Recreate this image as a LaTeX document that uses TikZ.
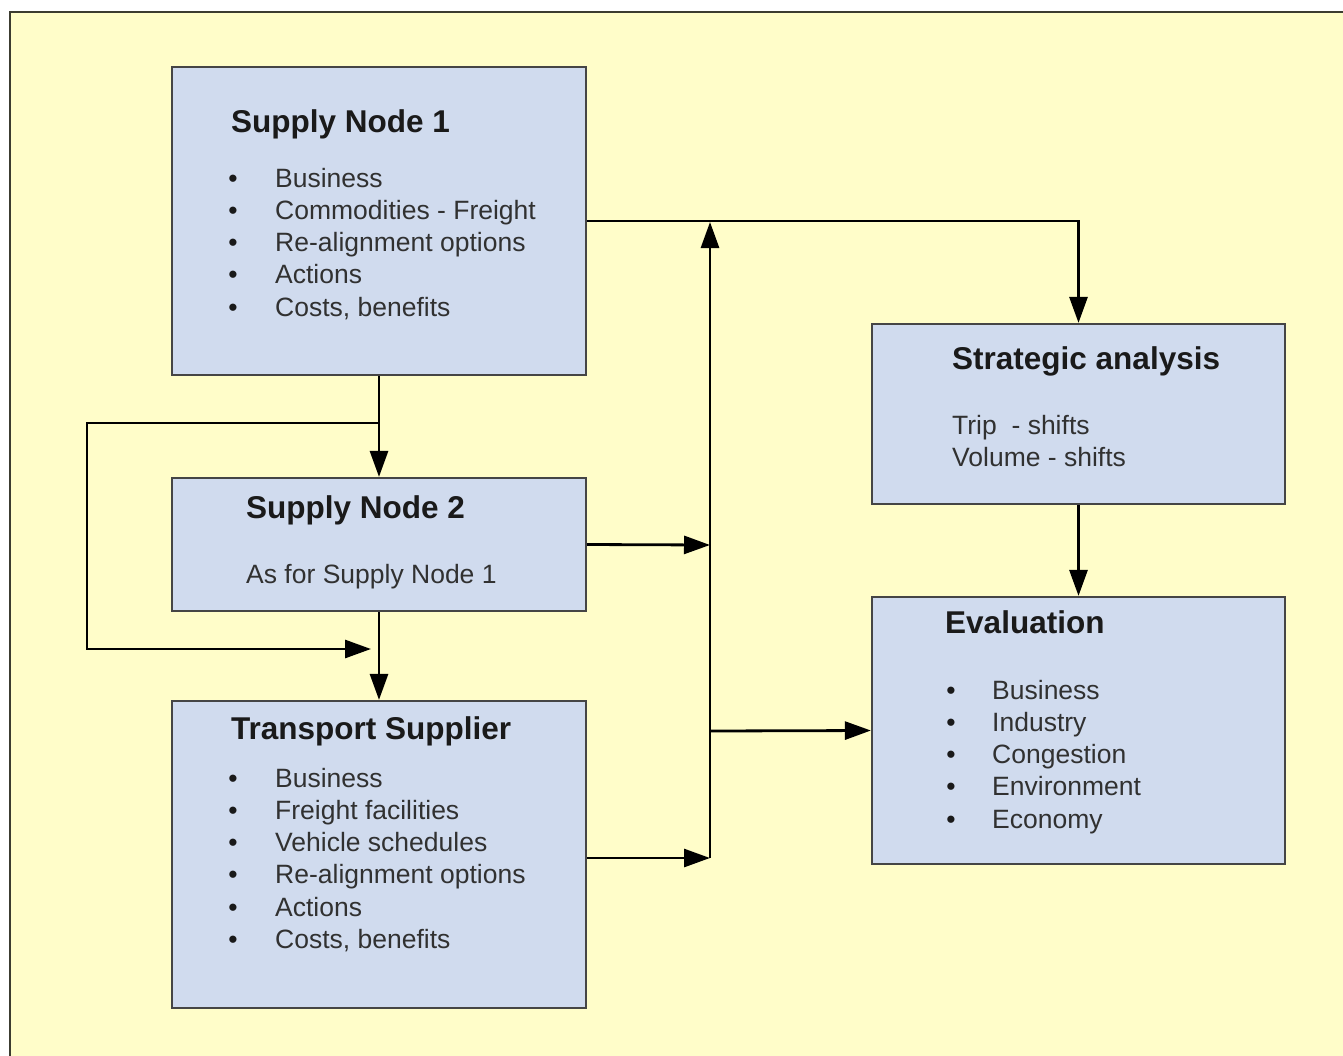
\documentclass[tikz,border=0pt]{standalone}
\usepackage{fontspec}
\setmainfont{Liberation Sans}
\usetikzlibrary{arrows.meta}
\definecolor{bgyellow}{HTML}{FFFDC9}
\definecolor{boxfill}{HTML}{D0DBEE}
\definecolor{boxline}{HTML}{454545}
\definecolor{frameline}{HTML}{3C3C30}
\definecolor{txt}{HTML}{1A1A1A}
\begin{document}
\begin{tikzpicture}[x=1pt,y=-1pt,
  box/.style={draw=boxline,line width=2.2pt,fill=boxfill,rectangle,inner sep=0pt},
  ttl/.style={anchor=base west,inner sep=0pt,text=txt,font=\fontsize{31.5}{36}\selectfont\bfseries},
  bdy/.style={anchor=base west,inner sep=0pt,text=txt!90!white,font=\fontsize{26.5}{32}\selectfont},
  bul/.style={anchor=base,inner sep=0pt,text=txt,font=\fontsize{26.5}{32}\selectfont},
  conn/.style={line width=2.8pt,draw=black},
  arr/.style={conn,-{Triangle[length=26pt,width=18pt]}}]
\useasboundingbox (0,0) rectangle (1343,1055);
\fill[white] (0,0) rectangle (1343,1055);
\draw[frameline,line width=2.4pt,fill=bgyellow] (10,12) rectangle (1360,1075);

% boxes
\node[box,minimum width=414pt,minimum height=308pt] (sn1) at (379,221) {};
\node[box,minimum width=414pt,minimum height=133pt] (sn2) at (379,544.5) {};
\node[box,minimum width=414pt,minimum height=307pt] (ts) at (379,854.5) {};
\node[box,minimum width=413pt,minimum height=180pt] (sa) at (1078.5,414) {};
\node[box,minimum width=413pt,minimum height=267pt] (ev) at (1078.5,730.5) {};

% Supply Node 1 text
\node[ttl] (sn1t) at (231,132) {Supply Node 1};
\foreach \y/\t [count=\i] in {187/Business,219/Commodities - Freight,251/Re-alignment options,283/Actions,316/{Costs, benefits}}{
  \node[bul] (sn1b\i) at (233,\y) {•};
  \node[bdy] (sn1l\i) at (275,\y) {\t};
}
% Supply Node 2 text
\node[ttl] (sn2t) at (246,518) {Supply Node 2};
\node[bdy] (sn2l) at (246,583) {As for Supply Node 1};
% Transport Supplier text
\node[ttl] (tst) at (231,739) {Transport Supplier};
\foreach \y/\t [count=\i] in {787/Business,819/Freight facilities,851/Vehicle schedules,883/Re-alignment options,916/Actions,948/{Costs, benefits}}{
  \node[bul] (tsb\i) at (233,\y) {•};
  \node[bdy] (tsl\i) at (275,\y) {\t};
}
% Strategic analysis text
\node[ttl] (sat) at (952,369) {Strategic analysis};
\node[bdy] (sal1) at (952,434) {Trip\ \ - shifts};
\node[bdy] (sal2) at (952,466) {Volume - shifts};
% Evaluation text
\node[ttl] (evt) at (945,633) {Evaluation};
\foreach \y/\t [count=\i] in {699/Business,731/Industry,763/Congestion,795/Environment,828/Economy}{
  \node[bul] (evb\i) at (951,\y) {•};
  \node[bdy] (evl\i) at (992,\y) {\t};
}

% helper coordinates
\coordinate (vtop) at (710,222);
\coordinate (vbot) at (710,858);
\coordinate (vsn2) at (710,545);
\coordinate (vev) at (710,731);
\coordinate (lstart) at (379,423);
\coordinate (lc1) at (87,423);
\coordinate (lc2) at (87,649);
\coordinate (lend) at (371,649);

% connectors
\draw[arr] (sn1.east) -| (sa.north);
\draw[arr] (vbot) -- (vtop);
\draw[arr] (sn2.east) -- (vsn2);
\draw[arr] (ts.east |- vbot) -- (vbot);
\draw[arr] (vev) -- (ev.west);
\draw[arr] (sa.south) -- (ev.north);
\draw[arr] (sn1.south) -- (sn2.north);
\draw[arr] (lstart) -- (lc1) -- (lc2) -- (lend);
\draw[arr] (sn2.south) -- (ts.north);
\end{tikzpicture}
\end{document}
